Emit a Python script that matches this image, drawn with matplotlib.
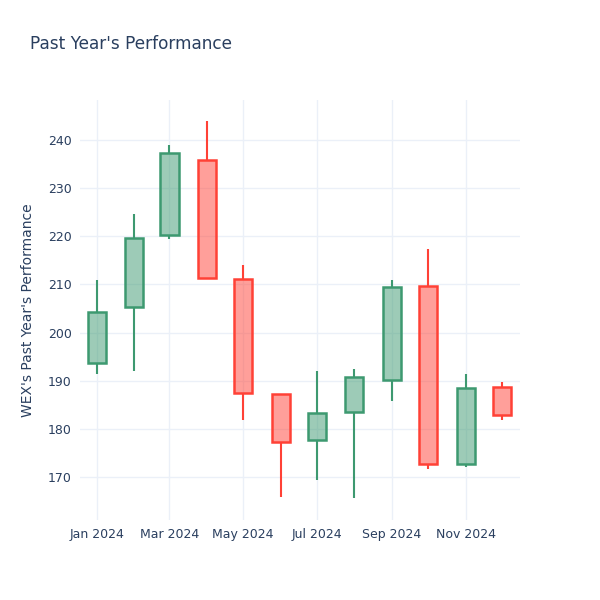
import matplotlib
matplotlib.use("Agg")
import matplotlib.pyplot as plt
import matplotlib.dates as mdates
import numpy as np
from datetime import datetime

# monthly candles
months = ["2024-01-01", "2024-02-01", "2024-03-01", "2024-04-01", "2024-05-01", "2024-06-01",
          "2024-07-01", "2024-08-01", "2024-09-01", "2024-10-01", "2024-11-01", "2024-12-01"]
opens = [193.7, 205.3, 220.3, 235.8, 211.1, 187.2, 177.7, 183.5, 190.1, 209.7, 172.7, 188.7]
highs = [210.9, 224.6, 239.0, 243.9, 214.0, 187.2, 192.0, 192.4, 210.9, 217.4, 191.4, 189.7]
lows = [191.4, 192.0, 219.4, 211.1, 181.8, 165.8, 169.4, 165.6, 185.8, 171.7, 172.1, 181.8]
closes = [204.3, 219.6, 237.3, 211.3, 187.4, 177.3, 183.3, 190.8, 209.5, 172.7, 188.5, 182.9]

tick_dates = ["2024-01-01", "2024-03-01", "2024-05-01", "2024-07-01", "2024-09-01", "2024-11-01"]
tick_labels = ["Jan 2024", "Mar 2024", "May 2024", "Jul 2024", "Sep 2024", "Nov 2024"]

INC = "#3D9970"
DEC = "#FF4136"
TXT = "#2a3f5f"
GRID = "#EBF0F8"

x = mdates.date2num([datetime.strptime(d, "%Y-%m-%d") for d in months])
o = np.array(opens)
c = np.array(closes)
h = np.array(highs)
l = np.array(lows)

fig = plt.figure(figsize=(6, 6), dpi=100)
ax = fig.add_axes([80 / 600, 80 / 600, 440 / 600, 420 / 600])

width = 15
for xi, oi, ci, hi, li in zip(x, o, c, h, l):
    col = INC if ci >= oi else DEC
    top, bot = max(oi, ci), min(oi, ci)
    ax.vlines(xi, top, hi, color=col, linewidth=1.5, zorder=3)
    ax.vlines(xi, li, bot, color=col, linewidth=1.5, zorder=3)
    ax.bar(xi, top - bot, bottom=bot, width=width, color=col, alpha=0.5, zorder=2)
    ax.bar(xi, top - bot, bottom=bot, width=width, fill=False, edgecolor=col,
           linewidth=1.8, zorder=4)

ax.set_xlim(mdates.date2num(datetime(2023, 12, 18)), mdates.date2num(datetime(2024, 12, 16)))
ax.set_ylim(161.1, 248.3)
ax.set_yticks(range(170, 241, 10))
ax.set_xticks(mdates.date2num([datetime.strptime(d, "%Y-%m-%d") for d in tick_dates]))
ax.set_xticklabels(tick_labels)

for s in ax.spines.values():
    s.set_visible(False)
ax.grid(True, color=GRID, linewidth=1)
ax.set_axisbelow(True)
ax.tick_params(length=0, labelsize=9, colors=TXT, pad=6)

ax.set_ylabel("WEX's Past Year's Performance", fontsize=10, color=TXT, labelpad=9)
fig.text(30 / 600, 1 - 44 / 600, "Past Year's Performance", fontsize=12.2, color=TXT,
         va="center", ha="left")

fig.savefig("out.png", dpi=100)
